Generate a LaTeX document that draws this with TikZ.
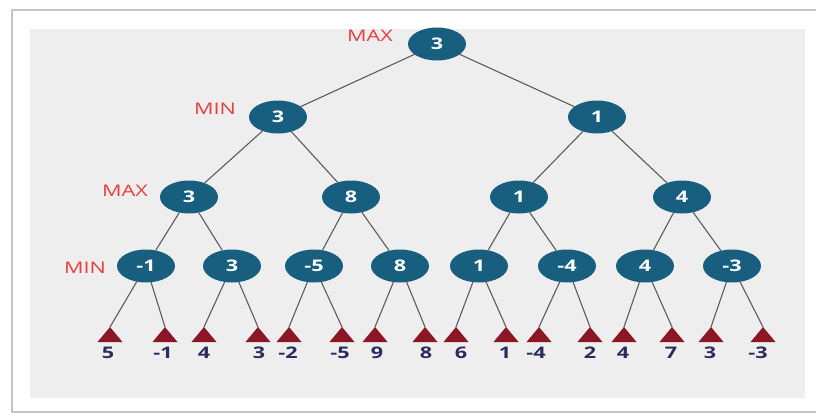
\documentclass[tikz,border=0pt]{standalone}
\usepackage{fontspec}
\setsansfont{Open Sans}
\usepackage{graphicx}
\usetikzlibrary{shapes.geometric}

\definecolor{nodeblue}{RGB}{24,94,126}
\definecolor{leafred}{RGB}{138,22,38}
\definecolor{leafnavy}{RGB}{42,44,92}
\definecolor{levelred}{RGB}{232,62,62}
\definecolor{edgegray}{RGB}{92,92,92}
\definecolor{panelgray}{RGB}{238,238,238}
\definecolor{framegray}{RGB}{196,196,196}

% text in the reference is stretched sideways
\newcommand{\widen}[1]{\scalebox{1.35}[1]{#1}}
% triangle hanging from an apex coordinate
\newcommand{\leaftri}[1]{\fill[leafred] (#1) -- ++(-12.5,15) -- ++(25,0) -- cycle;}

\tikzset{
  valnode/.style={ellipse, fill=nodeblue, inner sep=0pt, minimum width=58pt, minimum height=33pt,
    text=white, font=\sffamily\bfseries\fontsize{16}{18}\selectfont},
  levellabel/.style={text=levelred, inner sep=0pt, font=\sffamily\fontsize{16}{18}\selectfont},
  leaflabel/.style={text=leafnavy, inner sep=0pt, font=\sffamily\bfseries\fontsize{16}{18}\selectfont},
  branch/.style={draw=edgegray, line width=1.1pt},
}

\begin{document}
\begin{tikzpicture}[x=1pt, y=-1pt, line cap=round, line join=round]

  %% ---- frame and panel ----
  \fill[white] (0,0) rectangle (816,415);
  \draw[framegray, line width=2pt] (12,10) rectangle (830,412);
  \fill[panelgray] (30,29) rectangle (805,398);

  %% ---- level labels ----
  \node[levellabel] (lmax0) at (370,36) {\widen{MAX}};
  \node[levellabel] (lmin1) at (215,109) {\widen{MIN}};
  \node[levellabel] (lmax2) at (125,191) {\widen{MAX}};
  \node[levellabel] (lmin3) at (85,268) {\widen{MIN}};

  %% ---- inner nodes ----
  \node[valnode] (root) at (437,44) {\widen{3}};

  \node[valnode] (a) at (278,117) {\widen{3}};
  \node[valnode] (b) at (597,117) {\widen{1}};

  \node[valnode] (aa) at (189,197) {\widen{3}};
  \node[valnode] (ab) at (351,197) {\widen{8}};
  \node[valnode] (ba) at (519,197) {\widen{1}};
  \node[valnode] (bb) at (682,197) {\widen{4}};

  \node[valnode] (aaa) at (146,266) {\widen{-1}};
  \node[valnode] (aab) at (232,266) {\widen{3}};
  \node[valnode] (aba) at (314,266) {\widen{-5}};
  \node[valnode] (abb) at (400,266) {\widen{8}};
  \node[valnode] (baa) at (479,266) {\widen{1}};
  \node[valnode] (bab) at (567,266) {\widen{-4}};
  \node[valnode] (bba) at (645,266) {\widen{4}};
  \node[valnode] (bbb) at (732,266) {\widen{-3}};

  %% ---- leaf apexes ----
  \coordinate (t1) at (110,327);
  \coordinate (t2) at (165,327);
  \coordinate (t3) at (204,327);
  \coordinate (t4) at (258,327);
  \coordinate (t5) at (289,327);
  \coordinate (t6) at (342,327);
  \coordinate (t7) at (375,327);
  \coordinate (t8) at (425,327);
  \coordinate (t9) at (456,327);
  \coordinate (t10) at (506,327);
  \coordinate (t11) at (539,327);
  \coordinate (t12) at (590,327);
  \coordinate (t13) at (624,327);
  \coordinate (t14) at (672,327);
  \coordinate (t15) at (711,327);
  \coordinate (t16) at (763,327);

  %% ---- branches ----
  \draw[branch] (root) -- (a);
  \draw[branch] (root) -- (b);
  \draw[branch] (a) -- (aa);
  \draw[branch] (a) -- (ab);
  \draw[branch] (b) -- (ba);
  \draw[branch] (b) -- (bb);
  \draw[branch] (aa) -- (aaa);
  \draw[branch] (aa) -- (aab);
  \draw[branch] (ab) -- (aba);
  \draw[branch] (ab) -- (abb);
  \draw[branch] (ba) -- (baa);
  \draw[branch] (ba) -- (bab);
  \draw[branch] (bb) -- (bba);
  \draw[branch] (bb) -- (bbb);
  \draw[branch] (aaa) -- (t1);
  \draw[branch] (aaa) -- (t2);
  \draw[branch] (aab) -- (t3);
  \draw[branch] (aab) -- (t4);
  \draw[branch] (aba) -- (t5);
  \draw[branch] (aba) -- (t6);
  \draw[branch] (abb) -- (t7);
  \draw[branch] (abb) -- (t8);
  \draw[branch] (baa) -- (t9);
  \draw[branch] (baa) -- (t10);
  \draw[branch] (bab) -- (t11);
  \draw[branch] (bab) -- (t12);
  \draw[branch] (bba) -- (t13);
  \draw[branch] (bba) -- (t14);
  \draw[branch] (bbb) -- (t15);
  \draw[branch] (bbb) -- (t16);

  %% ---- leaf triangles ----
  \leaftri{t1} \leaftri{t2} \leaftri{t3} \leaftri{t4}
  \leaftri{t5} \leaftri{t6} \leaftri{t7} \leaftri{t8}
  \leaftri{t9} \leaftri{t10} \leaftri{t11} \leaftri{t12}
  \leaftri{t13} \leaftri{t14} \leaftri{t15} \leaftri{t16}

  %% ---- leaf values ----
  \node[leaflabel] (v1) at (108,353) {\widen{5}};
  \node[leaflabel] (v2) at (163,353) {\widen{-1}};
  \node[leaflabel] (v3) at (204,353) {\widen{4}};
  \node[leaflabel] (v4) at (259,353) {\widen{3}};
  \node[leaflabel] (v5) at (288,353) {\widen{-2}};
  \node[leaflabel] (v6) at (340,353) {\widen{-5}};
  \node[leaflabel] (v7) at (377,353) {\widen{9}};
  \node[leaflabel] (v8) at (426,353) {\widen{8}};
  \node[leaflabel] (v9) at (461,353) {\widen{6}};
  \node[leaflabel] (v10) at (505,353) {\widen{1}};
  \node[leaflabel] (v11) at (536,353) {\widen{-4}};
  \node[leaflabel] (v12) at (590,353) {\widen{2}};
  \node[leaflabel] (v13) at (623,353) {\widen{4}};
  \node[leaflabel] (v14) at (671,353) {\widen{7}};
  \node[leaflabel] (v15) at (710,353) {\widen{3}};
  \node[leaflabel] (v16) at (758,353) {\widen{-3}};

  % fix the canvas to the reference size
  \pgfresetboundingbox
  \path[use as bounding box] (0,0) rectangle (816,415);
\end{tikzpicture}
\end{document}
